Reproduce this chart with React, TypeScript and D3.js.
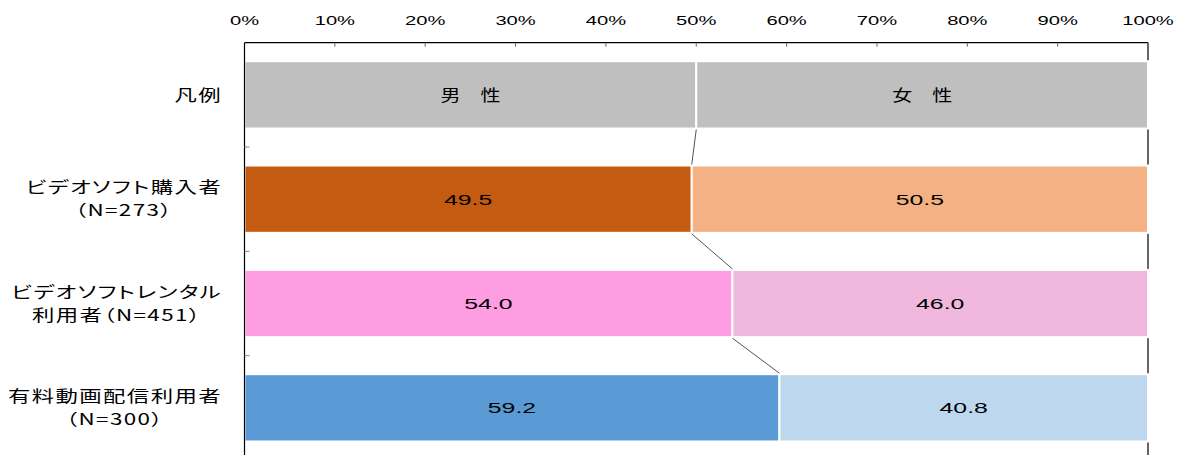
import React, { useEffect, useRef } from "react";
import * as d3 from "d3";

const rowKeys = ["legend", "purchase", "rental", "streaming"];
const rowLabels: string[][] = [
  ["凡例"],
  ["ビデオソフト購入者", "（N=273）"],
  ["ビデオソフトレンタル", "利用者（N=451）"],
  ["有料動画配信利用者", "（N=300）"],
];
const maleValues = [50, 49.5, 54.0, 59.2];
const femaleValues = [50, 50.5, 46.0, 40.8];
const maleColors = ["#BFBFBF", "#C55A11", "#FF9DE2", "#5B9BD5"];
const femaleColors = ["#BFBFBF", "#F4B183", "#F0B8DD", "#BDD7EE"];
const legendTexts = ["男　性", "女　性"];
const xTicks = [0, 10, 20, 30, 40, 50, 60, 70, 80, 90, 100];

const W = 1182;
const H = 455;

export default function App() {
  const ref = useRef<SVGSVGElement>(null);
  useEffect(() => {
    const svg = d3.select(ref.current);
    svg.selectAll("*").remove();
    const x = d3.scaleLinear().domain([0, 100]).range([244.5, 1148]);
    const y = d3
      .scaleBand<string>()
      .domain(rowKeys)
      .range([42.7, 460])
      .paddingInner(0.355)
      .paddingOuter(0.1775);
    const top = 42.7;
    const bottom = 460;
    const font = "'Liberation Sans', Arial, sans-serif";
    const jfont = "'Noto Sans CJK JP', sans-serif";

    type Sel = d3.Selection<any, unknown, null, undefined>;
    const addText = (
      parent: Sel,
      cx: number,
      cy: number,
      txt: string,
      opts: { family: string; size: number; sx: number; anchor?: string; weight?: number; ls?: number; palt?: boolean }
    ) => {
      const t = parent
        .append("text")
        .attr("transform", `translate(${cx},${cy}) scale(${opts.sx},1)`)
        .attr("x", 0)
        .attr("y", 0)
        .attr("dy", "0.36em")
        .attr("text-anchor", opts.anchor ?? "middle")
        .attr("font-family", opts.family)
        .attr("font-size", opts.size)
        .attr("font-weight", opts.weight ?? 400)
        .attr("fill", "#000")
        .text(txt);
      if (opts.ls) t.attr("letter-spacing", `${opts.ls}px`);
      if (opts.palt) t.style("font-feature-settings", "'palt' 1");
      return t;
    };

    // right border line (behind bars)
    svg.append("line").attr("x1", x(100)).attr("x2", x(100)).attr("y1", top).attr("y2", bottom).attr("stroke", "#000").attr("stroke-width", 1.2);

    // bars
    const g = svg.append("g");
    rowKeys.forEach((k, i) => {
      const y0 = y(k)!;
      const bh = y.bandwidth();
      g.append("rect").attr("x", x(0)).attr("y", y0).attr("width", x(maleValues[i]) - x(0)).attr("height", bh)
        .attr("fill", maleColors[i]).attr("stroke", "#fff").attr("stroke-width", 2);
      g.append("rect").attr("x", x(maleValues[i])).attr("y", y0).attr("width", x(100) - x(maleValues[i])).attr("height", bh)
        .attr("fill", femaleColors[i]).attr("stroke", "#fff").attr("stroke-width", 2);
      const cy = y0 + bh / 2;
      const mx = (x(0) + x(maleValues[i])) / 2;
      const fx = (x(maleValues[i]) + x(100)) / 2;
      if (i === 0) {
        addText(g, mx, cy, legendTexts[0], { family: jfont, size: 16, sx: 1.25 });
        addText(g, fx, cy, legendTexts[1], { family: jfont, size: 16, sx: 1.25 });
      } else {
        addText(g, mx, cy, maleValues[i].toFixed(1), { family: font, size: 15.5, sx: 1.6 });
        addText(g, fx, cy, femaleValues[i].toFixed(1), { family: font, size: 15.5, sx: 1.6 });
      }
    });

    // connector lines
    for (let i = 0; i < rowKeys.length - 1; i++) {
      svg.append("line")
        .attr("x1", x(maleValues[i])).attr("y1", y(rowKeys[i])! + y.bandwidth() + 1)
        .attr("x2", x(maleValues[i + 1])).attr("y2", y(rowKeys[i + 1])! - 1)
        .attr("stroke", "#555").attr("stroke-width", 1);
    }

    // top axis
    svg.append("line").attr("x1", x(0)).attr("x2", x(100)).attr("y1", top).attr("y2", top).attr("stroke", "#000").attr("stroke-width", 1.2);
    xTicks.forEach((t) => {
      svg.append("line").attr("x1", x(t)).attr("x2", x(t)).attr("y1", top).attr("y2", top + 4).attr("stroke", "#666").attr("stroke-width", 1);
      addText(svg as any, x(t), 20.5, `${t}%`, { family: font, size: 12.6, sx: 1.6 });
    });

    // left axis
    svg.append("line").attr("x1", x(0)).attr("x2", x(0)).attr("y1", top).attr("y2", bottom).attr("stroke", "#000").attr("stroke-width", 1.2);
    rowKeys.slice(1).forEach((k) => {
      const yy = y(k)! - (y.step() * y.paddingInner()) / 2;
      svg.append("line").attr("x1", x(0)).attr("x2", x(0) + 5).attr("y1", yy).attr("y2", yy).attr("stroke", "#888").attr("stroke-width", 1);
    });

    // category labels
    const labelRight = 222;
    const sxL = 1.4;
    rowKeys.forEach((k, i) => {
      const lines = rowLabels[i];
      const cy = y(k)! + y.bandwidth() / 2;
      const lh = 23;
      const items = lines.map((ln, j) => {
        const yy = cy + (j - (lines.length - 1) / 2) * lh;
        const t = addText(svg as any, 0, yy, ln, { family: jfont, size: 16, sx: sxL, ls: 1, palt: true });
        return { t, yy };
      });
      const widths = items.map((it) => (it.t.node() as SVGTextElement).getComputedTextLength() * sxL);
      const maxW = Math.max(...widths);
      const cx = labelRight - maxW / 2;
      items.forEach((it) => it.t.attr("transform", `translate(${cx},${it.yy}) scale(${sxL},1)`));
    });
  }, []);
  return (
    <svg
      ref={ref}
      width={W}
      height={H}
      style={{ position: "absolute", left: 0, top: 0, background: "#fff" }}
    />
  );
}
